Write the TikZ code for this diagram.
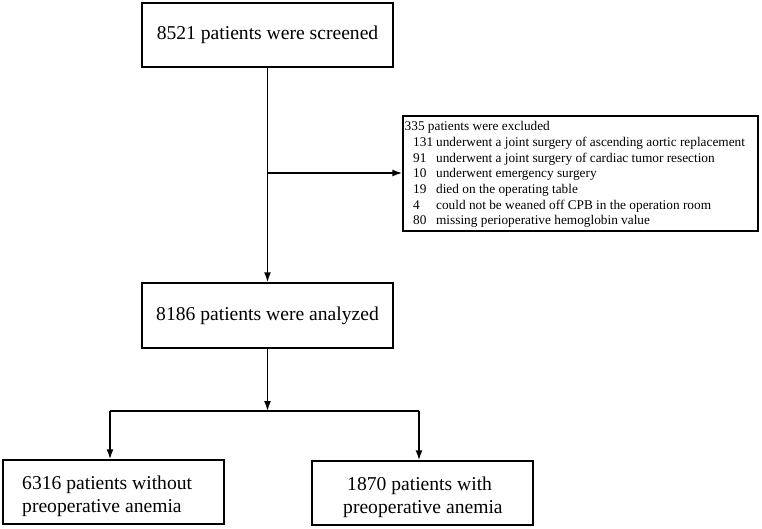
\documentclass[tikz,border=0pt]{standalone}
\usepackage{fontspec}
\setmainfont{Liberation Serif}
\usetikzlibrary{arrows.meta}
\tikzset{
  box/.style={draw, line width=1.5pt, inner sep=0pt, font=\fontsize{19.6}{23}\selectfont},
  txt/.style={inner sep=0pt, align=left, anchor=west, font=\fontsize{19.6}{23}\selectfont},
  arr/.style={line width=1.5pt, -{Latex[length=10pt,width=7pt]}},
  ln/.style={line width=1.5pt}
}
\begin{document}
\begin{tikzpicture}[x=1pt,y=-1pt]
\useasboundingbox (0,0) rectangle (762,528);
\node[box, minimum width=251pt, minimum height=64pt] (scr) at (267.5,35) {\raisebox{0pt}{8521 patients were screened}};
\node[box, minimum width=251pt, minimum height=65pt] (ana) at (267.5,315.5) {8186 patients were analyzed};
\node[box, minimum width=221pt, minimum height=64pt] (wo) at (113.5,492) {};
\node[box, minimum width=221pt, minimum height=64pt] (wi) at (422.5,493) {};
\node[txt] (wot) at (22,496) {6316 patients without\\preoperative anemia};
\node[txt] (wit) at (343,497) {\hspace{4pt}1870 patients with\\preoperative anemia};
\node[draw, line width=1.5pt, minimum width=355pt, minimum height=115pt, inner sep=0pt] (exc) at (580.5,173.5) {};
\node[anchor=north west, inner sep=0pt, font=\fontsize{13.3}{15.7}\selectfont] (exct) at (404.5,119.5) {%
\begin{tabular}{@{\hspace{8.5pt}}l@{\hspace{3pt}}l@{}}
\multicolumn{2}{@{}l@{}}{335 patients were excluded}\\
131 & underwent a joint surgery of ascending aortic replacement\\
91 & underwent a joint surgery of cardiac tumor resection\\
10 & underwent emergency surgery\\
19 & died on the operating table\\
4 & could not be weaned off CPB in the operation room\\
80 & missing perioperative hemoglobin value
\end{tabular}};
\coordinate (br) at (267.5,173);
\coordinate (sp) at (267.5,411);
\coordinate (L) at (110,411);
\coordinate (R) at (419,411);
\draw[arr] (scr.south) -- (ana.north);
\draw[arr] (br) -- (br -| exc.west);
\draw[arr] (ana.south) -- (sp);
\draw[ln] (L) -- (R);
\draw[arr] (L) -- (L |- wo.north);
\draw[arr] (R) -- (R |- wi.north);
\end{tikzpicture}
\end{document}
